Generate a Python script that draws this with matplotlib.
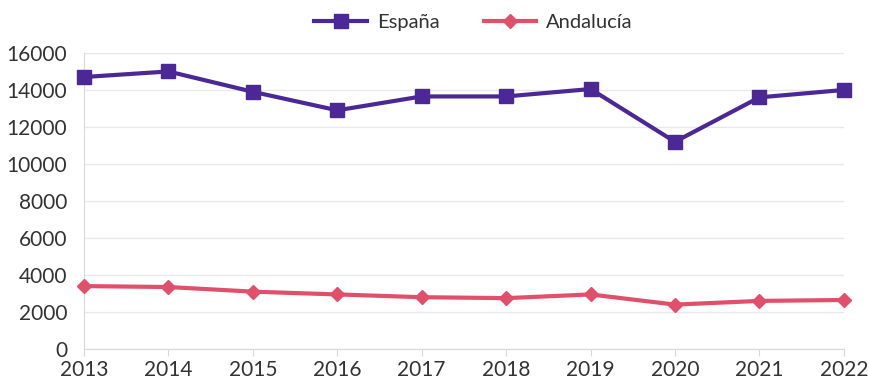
import matplotlib
matplotlib.use("Agg")
import matplotlib.pyplot as plt

years = [2013, 2014, 2015, 2016, 2017, 2018, 2019, 2020, 2021, 2022]
espana = [14700, 15000, 13900, 12900, 13650, 13650, 14050, 11200, 13600, 14000]
andalucia = [3400, 3350, 3100, 2950, 2800, 2750, 2950, 2400, 2600, 2650]
yticks = [0, 2000, 4000, 6000, 8000, 10000, 12000, 14000, 16000]

plt.rcParams['font.family'] = ['Lato', 'DejaVu Sans']

fig = plt.figure(figsize=(8.69, 3.84), dpi=100)
ax = fig.add_axes([0.0967, 0.0911, 0.8743, 0.771])

ax.plot(years, espana, color='#4B2896', lw=3, marker='s', ms=10,
        label='España', clip_on=False, zorder=3)
ax.plot(years, andalucia, color='#E0506B', lw=3, marker='D', ms=7,
        label='Andalucía', clip_on=False, zorder=3)

ax.set_xlim(2013, 2022)
ax.set_ylim(0, 16000)
ax.set_xticks(years)
ax.set_yticks(yticks)
ax.tick_params(axis='both', labelsize=15, colors='#333333')
ax.tick_params(axis='y', length=0, pad=12)
ax.tick_params(axis='x', length=5, color='#d9d9d9', pad=3)
ax.grid(axis='y', color='#e8e8e8', lw=1)
ax.set_axisbelow(True)
for s in ['top', 'right']:
    ax.spines[s].set_visible(False)
for s in ['left', 'bottom']:
    ax.spines[s].set_color('#d9d9d9')

fig.legend(loc='upper center', bbox_to_anchor=(0.545, 1.01), ncol=2,
           frameon=False, fontsize=14.5, handlelength=2.6, columnspacing=2.2,
           handletextpad=0.5, labelcolor='#333333')

fig.savefig('out.png', dpi=100)
